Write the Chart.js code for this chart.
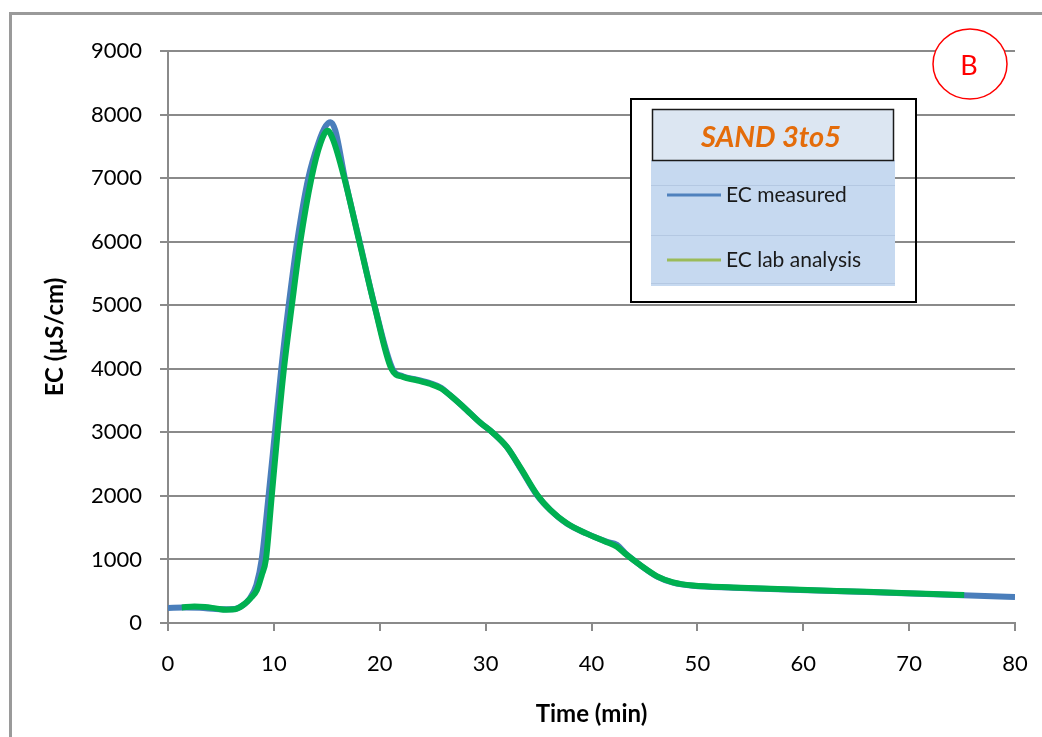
<!DOCTYPE html>
<html>
<head>
<meta charset="utf-8">
<script src="https://cdn.jsdelivr.net/npm/chart.js@4"></script>
<style>
html,body{margin:0;padding:0;background:#fff;}
#c{display:block;}
</style>
</head>
<body>
<canvas id="c" width="1042" height="737"></canvas>
<script>
// ---- data ----
const measuredTime = [0,1.5,3,4.5,5.8,6.8,7.7,8.35,8.85,9.5,10.1,10.7,11.4,12.2,13.25,14.2,14.9,15.35,15.8,16.7,18.1,19.5,21.2,22.2,23.5,24.8,25.8,26.6,27.9,29.5,30.7,32.0,33.3,34.9,36.1,37.7,39.5,41.4,42.4,43.3,44.6,46.2,47.7,49.6,53.4,59.7,66,72.3,79.2,80];
const measuredEC   = [236,242,238,222,215,250,380,600,1000,2000,3000,4000,5000,6000,7000,7550,7820,7880,7750,7000,6000,5000,4000,3880,3830,3770,3700,3590,3400,3150,2990,2770,2430,2000,1780,1560,1410,1280,1230,1080,910,730,635,585,556,519,488,451,414,410];
const labTime = [1.3,2.5,3.5,4.5,5.5,6.3,7.1,7.8,8.4,8.85,9.25,9.8,10.35,10.95,11.7,12.5,13.55,14.4,15.08,15.6,16.65,18.07,19.49,21.1,22.2,23.5,24.8,25.8,26.6,27.9,29.5,30.7,32.0,33.3,34.9,36.1,37.7,39.5,41.4,42.4,43.3,44.6,46.2,47.7,49.6,53.4,59.7,66,72.3,75.2];
const labEC   = [245,258,252,230,208,215,283,390,519,750,1000,2000,3000,4000,5000,6000,7000,7550,7745,7600,7000,6000,5000,4000,3870,3820,3760,3690,3590,3400,3150,2990,2770,2440,2010,1780,1565,1410,1275,1200,1075,912,735,640,590,560,522,490,455,440];
const seriesNames = ["EC measured", "EC lab analysis"];
const legendTitle = "SAND 3to5";
const panelLetter = "B";
const xTitle = "Time (min)";
const yTitle = "EC (µS/cm)";

const FONT = "Lato, 'Open Sans', sans-serif";
const GRID = "#8a8a8a";

function pts(xs, ys){ return xs.map((x,i)=>({x:x, y:ys[i]})); }

const decor = {
  id: 'decor',
  beforeDraw(chart){
    const ctx = chart.ctx;
    ctx.save();
    ctx.fillStyle = '#fff';
    ctx.fillRect(0,0,chart.width,chart.height);
    ctx.strokeStyle = '#9a9a9a';
    ctx.lineWidth = 3;
    ctx.strokeRect(10.5, 13.5, 1100, 800);
    ctx.restore();
  },
  afterDraw(chart){
    const ctx = chart.ctx;
    ctx.save();
    // legend box
    ctx.fillStyle = '#fff';
    ctx.fillRect(631, 99, 264, 203);
    ctx.fillRect(895, 99, 21, 60);
    ctx.fillStyle = '#c6d9f0';
    ctx.fillRect(651, 160, 244, 126);
    ctx.strokeStyle = '#b4c8e2';
    ctx.lineWidth = 1;
    [185.5, 235.5, 283.5].forEach(y=>{ctx.beginPath();ctx.moveTo(651,y);ctx.lineTo(895,y);ctx.stroke();});
    ctx.fillStyle = '#dce6f2';
    ctx.fillRect(652, 109, 242, 52);
    ctx.strokeStyle = '#1a1a1a';
    ctx.lineWidth = 1.5;
    ctx.strokeRect(652.5, 109.5, 241, 51);
    ctx.strokeStyle = '#000';
    ctx.lineWidth = 2;
    ctx.strokeRect(631, 99, 285, 203);
    ctx.font = "bold italic 29px " + FONT;
    ctx.fillStyle = '#e46c0a';
    ctx.textAlign = 'center';
    ctx.textBaseline = 'middle';
    ctx.fillText(legendTitle, 771, 138);
    const items = [[seriesNames[0], '#4f81bd', 195], [seriesNames[1], '#9bbb59', 260]];
    ctx.textAlign = 'left';
    ctx.font = "21px " + FONT;
    items.forEach(([t,c,y])=>{
      ctx.strokeStyle = c; ctx.lineWidth = 3;
      ctx.beginPath(); ctx.moveTo(667,y); ctx.lineTo(721,y); ctx.stroke();
      ctx.fillStyle = '#1a1a1a';
      ctx.fillText(t, 726, y);
    });
    // panel letter circle
    ctx.beginPath();
    ctx.ellipse(970, 64, 37, 35, 0, 0, Math.PI*2);
    ctx.fillStyle = '#fff'; ctx.fill();
    ctx.strokeStyle = '#ff0000'; ctx.lineWidth = 1.5; ctx.stroke();
    ctx.fillStyle = '#ff0000';
    ctx.font = "27px " + FONT;
    ctx.textAlign = 'center';
    ctx.fillText(panelLetter, 969, 66);
    ctx.restore();
  }
};

new Chart(document.getElementById('c'), {
  type: 'line',
  data: {
    datasets: [
      { label: seriesNames[1], data: pts(labTime, labEC), borderColor: '#00b050', borderWidth: 6,
        pointRadius: 0, cubicInterpolationMode: 'monotone', order: 0, fill: false },
      { label: seriesNames[0], data: pts(measuredTime, measuredEC), borderColor: '#4a7ebb', borderWidth: 6,
        pointRadius: 0, cubicInterpolationMode: 'monotone', order: 1, fill: false }
    ]
  },
  options: {
    responsive: false,
    animation: false,
    devicePixelRatio: 1,
    layout: { padding: { left: 0, top: 51, right: 27, bottom: 0 } },
    plugins: { legend: { display: false }, tooltip: { enabled: false } },
    scales: {
      x: {
        type: 'linear', min: 0, max: 80,
        afterFit(s){ s.height = 114; s.paddingLeft = 0; s.paddingRight = 0; },
        ticks: { stepSize: 10, color: '#000', font: { family: FONT, size: 22 }, padding: 20, maxRotation: 0,
                 callback: v => String(v) },
        grid: { drawOnChartArea: false, drawTicks: true, tickLength: 8, color: GRID, lineWidth: 2 },
        border: { color: GRID, width: 2 },
        title: { display: true, text: xTitle, color: '#000', font: { family: FONT, size: 24, weight: 'bold' }, padding: { top: 0, bottom: 8 } }
      },
      y: {
        min: 0, max: 9000,
        afterFit(s){ s.width = 168; s.paddingTop = 0; s.paddingBottom = 0; },
        ticks: { stepSize: 1000, color: '#000', font: { family: FONT, size: 22 }, padding: 18,
                 callback: v => String(v) },
        grid: { color: GRID, lineWidth: 2, tickLength: 8 },
        border: { color: GRID, width: 2 },
        title: { display: true, text: yTitle, color: '#000', font: { family: FONT, size: 24, weight: 'bold' }, padding: { top: 41, bottom: 0 } }
      }
    }
  },
  plugins: [decor]
});
</script>
</body>
</html>
